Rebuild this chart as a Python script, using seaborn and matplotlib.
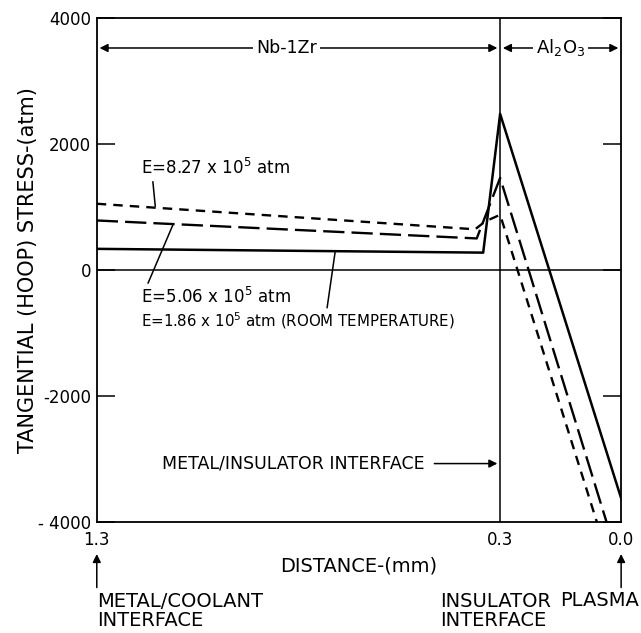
import matplotlib
matplotlib.use("Agg")
import matplotlib.pyplot as plt
import seaborn as sns
import pandas as pd

# distance from plasma side (mm) and tangential stress (atm)
dist_186 = [1.3, 0.342, 0.30, 0.0]
stress_186 = [335, 275, 2475, -3620]

dist_506 = [1.3, 0.358, 0.30, 0.036]
stress_506 = [785, 500, 1460, -4000]

dist_827 = [1.3, 0.362, 0.337, 0.30, 0.060]
stress_827 = [1050, 645, 770, 875, -4000]

y_ticks = [-4000, -2000, 0, 2000, 4000]
y_tick_labels = ["- 4000", "-2000", "0", "2000", "4000"]
x_ticks = [1.3, 0.3, 0.0]
x_tick_labels = ["1.3", "0.3", "0.0"]

sns.set_style("ticks")
plt.rcParams["font.family"] = ["DejaVu Sans"]
plt.rcParams["text.color"] = "black"
plt.rcParams["axes.labelcolor"] = "black"
plt.rcParams["xtick.color"] = "black"
plt.rcParams["ytick.color"] = "black"

fig = plt.figure(figsize=(6.41, 6.33), dpi=100)
ax = fig.add_axes([0.151, 0.175, 0.818, 0.797])

df186 = pd.DataFrame({"d": dist_186, "s": stress_186})
df506 = pd.DataFrame({"d": dist_506, "s": stress_506})
df827 = pd.DataFrame({"d": dist_827, "s": stress_827})

sns.lineplot(data=df186, x="d", y="s", sort=False, color="black", lw=1.8, ax=ax)
sns.lineplot(data=df506, x="d", y="s", sort=False, color="black", lw=1.7,
             linestyle=(0, (9, 3)), ax=ax)
sns.lineplot(data=df827, x="d", y="s", sort=False, color="black", lw=1.7,
             linestyle=(0, (4, 3)), ax=ax)

ax.axhline(0, color="black", lw=1.1)
ax.axvline(0.3, color="black", lw=1.1)

ax.set_xlim(1.3, 0.0)
ax.set_ylim(-4000, 4000)
ax.set_yticks(y_ticks)
ax.set_yticklabels(y_tick_labels)
ax.set_xticks(x_ticks)
ax.set_xticklabels(x_tick_labels)
ax.tick_params(axis="y", direction="in", length=13, width=1.1, right=True,
               labelsize=12, pad=4)
ax.tick_params(axis="x", length=0, labelsize=12, pad=6)
for sp in ax.spines.values():
    sp.set_visible(True)
    sp.set_linewidth(1.3)
    sp.set_color("black")

ax.set_xlabel("DISTANCE-(mm)", fontsize=14, labelpad=6)
ax.set_ylabel("TANGENTIAL (HOOP) STRESS-(atm)", fontsize=15, labelpad=0)

# region arrows at the top
arr = dict(arrowstyle="-|>", color="black", lw=1.1, mutation_scale=12)
ax.annotate("", xy=(1.3, 3520), xytext=(0.83, 3520), arrowprops=arr)
ax.annotate("", xy=(0.3, 3520), xytext=(0.83, 3520), arrowprops=arr)
ax.annotate("", xy=(0.3, 3520), xytext=(0.15, 3520), arrowprops=arr)
ax.annotate("", xy=(0.0, 3520), xytext=(0.15, 3520), arrowprops=arr)
box = dict(facecolor="white", edgecolor="none", pad=2)
ax.text(0.83, 3520, "Nb-1Zr", ha="center", va="center", fontsize=12.5, bbox=box)
ax.text(0.15, 3520, "Al$_2$O$_3$", ha="center", va="center", fontsize=13, bbox=box)

# curve labels with leader lines
ax.text(1.19, 1620, "E=8.27 x 10$^5$ atm", ha="left", va="center", fontsize=12)
ax.plot([1.161, 1.155], [1400, 1010], color="black", lw=1.1)
ax.text(1.19, -430, "E=5.06 x 10$^5$ atm", ha="left", va="center", fontsize=12)
ax.plot([1.173, 1.111], [-210, 720], color="black", lw=1.1)
ax.text(1.19, -800, "E=1.86 x 10$^5$ atm (ROOM TEMPERATURE)", ha="left",
        va="center", fontsize=10.8)
ax.plot([0.729, 0.709], [-600, 290], color="black", lw=1.1)

ax.text(1.139, -3070, "METAL/INSULATOR INTERFACE", ha="left", va="center",
        fontsize=12.5)
ax.annotate("", xy=(0.3, -3070), xytext=(0.47, -3070), arrowprops=arr)

# interface labels below the axis
ax.annotate("", xy=(1.3, -4460), xytext=(1.3, -5080), arrowprops=arr,
            annotation_clip=False)
ax.annotate("", xy=(0.0, -4460), xytext=(0.0, -5080), arrowprops=arr,
            annotation_clip=False)
fig.text(97 / 641, 1 - 611 / 633, "METAL/COOLANT\nINTERFACE", ha="left",
         va="center", fontsize=14, linespacing=1.05)
fig.text(440 / 641, 1 - 611 / 633, "INSULATOR\nINTERFACE", ha="left",
         va="center", fontsize=14, linespacing=1.05)
fig.text(639 / 641, 1 - 600 / 633, "PLASMA", ha="right", va="center", fontsize=14)

fig.savefig("out.png", dpi=100)
